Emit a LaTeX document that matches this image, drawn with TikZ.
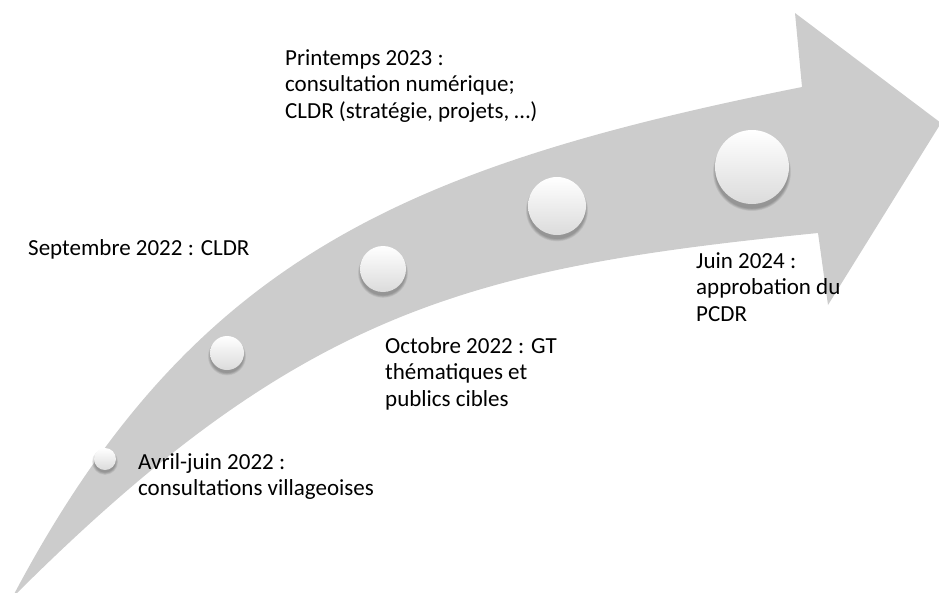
\documentclass[tikz,border=0pt]{standalone}
\usepackage{fontspec}
\setmainfont{Carlito}
\definecolor{arrowgray}{HTML}{CCCCCC}
\begin{document}
\begin{tikzpicture}[x=1pt,y=-1pt,
  bead/.style={circle, inner sep=0pt, top color=white, middle color=white, bottom color=black!14},
  lbl/.style={anchor=north west, inner sep=0pt, align=left, text=black,
    font=\fontsize{23}{26.5}\selectfont}]
\useasboundingbox (0,0) rectangle (939,592);
\clip (0,0) rectangle (939,592);
% curved arrow
\fill[arrowgray] (12,598) .. controls (190,260) and (402,167) .. (802,87)
  -- (795,13) -- (941,123) -- (828,305) -- (818,233)
  .. controls (468,268) and (300,310) .. (12,598) -- cycle;
% beads with soft shadow
\foreach \x/\y/\r/\n in {105/459/11/c1, 227/353/17/c2, 383/269/23/c3, 557/206/29/c4, 752/167/37/c5}{
  \foreach \k in {0,...,4}{
    \fill[black, opacity=0.06] (\x,{\y+0.08*\r+2}) circle ({(\r+2-0.6*\k)*1pt});
  }
  \node[bead, minimum size={(2*\r)*1pt}] (\n) at (\x,\y) {};
}
% labels
\node[lbl] (t1) at (138,450.5) {\strut Avril-juin 2022 :\\consultations villageoises};
\node[lbl] (t2) at (28,236.5) {\strut Septembre 2022 : CLDR};
\node[lbl] (t3) at (385,334.5) {\strut Octobre 2022 : GT\\thématiques et\\publics cibles};
\node[lbl] (t4) at (285,46.5) {\strut Printemps 2023 :\\consultation numérique;\\CLDR (stratégie, projets, …)};
\node[lbl] (t5) at (696,249.5) {\strut Juin 2024 :\\approbation du\\PCDR};
\end{tikzpicture}
\end{document}
